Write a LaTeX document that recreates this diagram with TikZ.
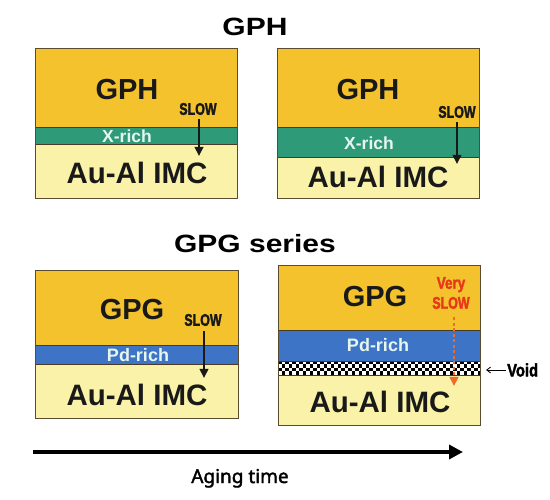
\documentclass[tikz,border=0pt]{standalone}
\usepackage{fontspec}
\setmainfont{Liberation Sans}
\newfontfamily\agefont[FakeBold=2]{Noto Sans}
\newfontfamily\heavyfont[FakeBold=2.2]{Liberation Sans Bold}
\usetikzlibrary{arrows.meta}
\definecolor{gold}{HTML}{F3C22D}
\definecolor{xgreen}{HTML}{2E9A78}
\definecolor{pdblue}{HTML}{3E74C6}
\definecolor{imc}{HTML}{F9F2A8}
\definecolor{boxline}{HTML}{5A4A2E}
\definecolor{redtxt}{HTML}{E8381A}
\definecolor{orarrow}{HTML}{F06A2B}
\definecolor{lighttxt}{HTML}{E6F6EE}
\tikzset{
  frame/.style={draw=boxline, line width=0.9pt},
  sep/.style={draw=boxline!80!black, line width=0.6pt},
  title/.style={inner sep=0pt, font=\bfseries\fontsize{25}{25}\selectfont},
  big/.style={inner sep=0pt, font=\bfseries\fontsize{29}{29}\selectfont, text=black!90},
  imctxt/.style={inner sep=0pt, font=\bfseries\fontsize{29.5}{29.5}\selectfont, text=black!90},
  layertxt/.style={inner sep=0pt, font=\bfseries\fontsize{18}{18}\selectfont, text=lighttxt},
  slowlbl/.style={inner sep=0pt, font=\heavyfont\fontsize{16.8}{16.8}\selectfont, text=black!90},
  slowarrow/.style={draw=black!90, line width=2pt, -{Triangle[length=9pt,width=8.5pt]}},
  dotarrow/.style={draw=orarrow, line width=2.5pt, dash pattern=on 3pt off 2.5pt, -{Triangle[length=9pt,width=8.5pt]}},
}
\begin{document}
\begin{tikzpicture}[x=1pt,y=-1pt]
\useasboundingbox (0,0) rectangle (550,500);

% ---------- titles
\node[title] (t1) at (255,27) {\scalebox{1.2}[1]{GPH}};
\node[title] (t2) at (255,243.5) {\scalebox{1.2}[1]{GPG series}};

% ---------- box 1
\fill[gold] (35,48) rectangle (237,127);
\fill[xgreen] (35,127) rectangle (237,144);
\fill[imc] (35,144) rectangle (237,198);
\draw[sep] (35,127) -- (237,127) (35,144) -- (237,144);
\draw[frame] (35,48) rectangle (237,198);
\node[big] (g1) at (127,90) {GPH};
\node[layertxt, font=\bfseries\fontsize{17.5}{17.5}\selectfont] (x1) at (127,136) {X-rich};
\node[imctxt] (i1) at (137,173) {Au-Al IMC};
\node[slowlbl] (s1) at (198,109) {\scalebox{0.74}[1]{SLOW}};
\coordinate (e1) at (199,156);
\draw[slowarrow] (s1.south -| e1) ++(0,4) -- (e1);

% ---------- box 2
\fill[gold] (277,48) rectangle (479,127);
\fill[xgreen] (277,127) rectangle (479,157);
\fill[imc] (277,157) rectangle (479,198);
\draw[sep] (277,127) -- (479,127) (277,157) -- (479,157);
\draw[frame] (277,48) rectangle (479,198);
\node[big] (g2) at (368,90) {GPH};
\node[layertxt, font=\bfseries\fontsize{17.5}{17.5}\selectfont] (x2) at (369,143) {X-rich};
\node[imctxt] (i2) at (378,177) {Au-Al IMC};
\node[slowlbl] (s2) at (457,112) {\scalebox{0.74}[1]{SLOW}};
\coordinate (e2) at (457,164);
\draw[slowarrow] (s2.south -| e2) ++(0,4) -- (e2);

% ---------- box 3
\fill[gold] (35,270) rectangle (238,345);
\fill[pdblue] (35,345) rectangle (238,364);
\fill[imc] (35,364) rectangle (238,418);
\draw[sep] (35,345) -- (238,345) (35,364) -- (238,364);
\draw[frame] (35,270) rectangle (238,418);
\node[big] (g3) at (132,310) {GPG};
\node[layertxt] (p3) at (138,355) {Pd-rich};
\node[imctxt] (i3) at (137,395) {Au-Al IMC};
\node[slowlbl] (s3) at (203,320) {\scalebox{0.74}[1]{SLOW}};
\coordinate (e3) at (204,378);
\draw[slowarrow] (s3.south -| e3) ++(0,5) -- (e3);

% ---------- box 4
\fill[gold] (278,265) rectangle (480,330);
\fill[pdblue] (278,330) rectangle (480,361);
\fill[white] (278,361) rectangle (480,375);
\begin{scope}
  \clip (278,361) rectangle (480,375);
  \foreach \i in {0,...,58}{
    \foreach \j in {0,1,2,3}{
      \pgfmathtruncatemacro\chk{mod(\i+\j,2)}
      \ifnum\chk=0
        \fill[black] ({278+3.5*\i},{361+3.5*\j}) rectangle ++(3.5,3.5);
      \fi
    }
  }
\end{scope}
\fill[imc] (278,375) rectangle (480,425);
\draw[sep] (278,330) -- (480,330) (278,361) -- (480,361) (278,375) -- (480,375);
\draw[frame] (278,265) rectangle (480,425);
\node[big] (g4) at (375,297) {GPG};
\node[layertxt] (p4) at (378,345) {Pd-rich};
\node[imctxt] (i4) at (380,402) {Au-Al IMC};
\node[slowlbl, text=redtxt, align=center, font=\heavyfont\fontsize{16.8}{20}\selectfont] (s4) at (451,293) {\scalebox{0.8}[1]{Very}\\\scalebox{0.74}[1]{SLOW}};
\coordinate (e4) at (454,386);
\draw[dotarrow] (s4.south -| e4) ++(0,8) -- (e4);

% void label
\node[inner sep=0pt, anchor=west, font=\heavyfont\fontsize{18}{18}\selectfont] (v) at (507,370) {\scalebox{0.82}[1]{Void}};
\coordinate (vt) at (486,370);
\draw[line width=0.8pt, -{Straight Barb[length=4pt,width=6pt]}] (v.west) ++(-1,0) -- (vt);

% ---------- time axis
\coordinate (a0) at (33,452);
\coordinate (a1) at (463,452);
\draw[line width=4.5pt, -{Triangle[length=14pt,width=14pt]}] (a0) -- (a1);
\node[inner sep=0pt, anchor=base, font=\agefont\fontsize{19}{19}\selectfont] (age) at (240,483) {Aging time};
\end{tikzpicture}
\end{document}
